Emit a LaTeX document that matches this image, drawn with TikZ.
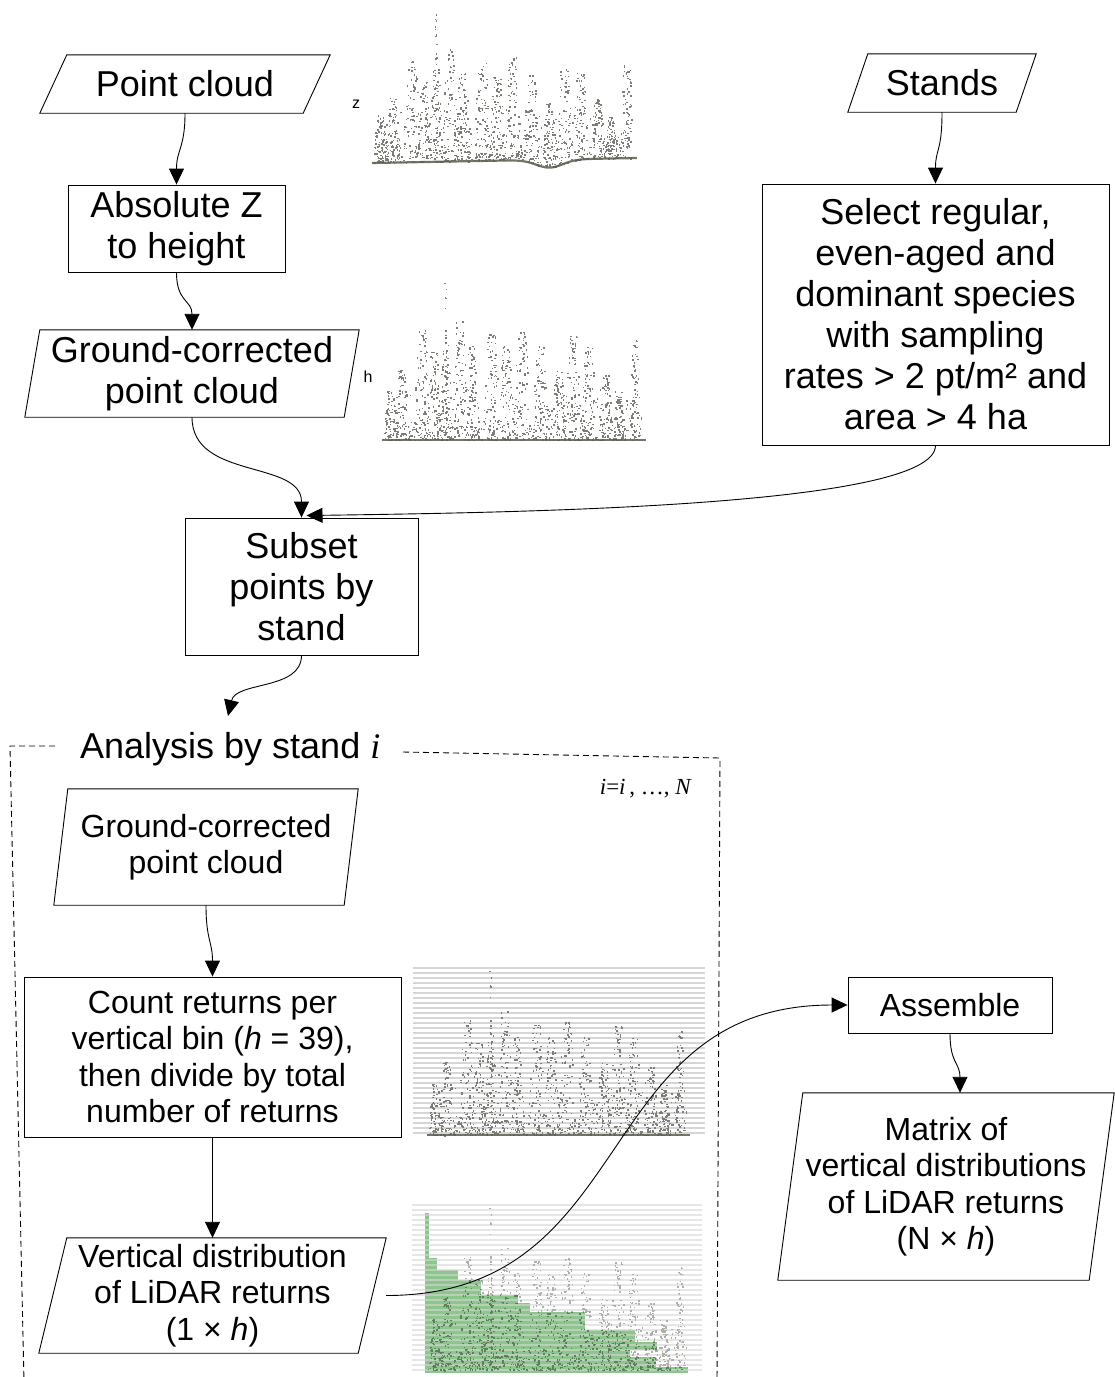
\documentclass[tikz,border=0pt]{standalone}
\usepackage{fontspec}
\setmainfont{Liberation Sans}
\newfontfamily\serifit{Liberation Serif}
\usetikzlibrary{arrows.meta}
\definecolor{dotA}{RGB}{125,125,120}
\definecolor{dotB}{RGB}{175,175,170}
\definecolor{dotG}{RGB}{95,125,95}
\definecolor{groundc}{RGB}{90,94,80}
\definecolor{binc}{RGB}{214,214,214}
\definecolor{barc}{RGB}{140,198,140}

\newcommand\treelist{0.03/0.31/0.03, 0.075/0.44/0.032, 0.15/0.69/0.034, 0.196/0.56/0.03, 0.24/0.62/0.028, 0.294/0.75/0.034, 0.34/0.59/0.032, 0.415/0.66/0.036, 0.47/0.59/0.034, 0.53/0.69/0.036, 0.60/0.59/0.034, 0.67/0.44/0.032, 0.725/0.66/0.034, 0.785/0.59/0.034, 0.85/0.41/0.03, 0.9/0.28/0.026, 0.96/0.63/0.028}

% #1 x0, #2 width, #3 ground y, #4 height, #5 colour, #6 ground offset (in \nx)
\newcommand\drawcloud[6]{%
  \foreach \tx/\th/\tw in \treelist {
    \foreach \k in {1,...,70} {
      \pgfmathsetmacro\ff{rnd}
      \pgfmathsetmacro\nx{\tx+\tw*(1-0.6*\ff)*rand}
      \pgfmathsetmacro\px{#1+#2*\nx}
      \pgfmathsetmacro\py{#3+#6-#4*\th*\ff}
      \fill[#5] (\px,\py) rectangle +(1.5,1.5);
    }
  }
  \foreach \k in {1,...,30} {
    \pgfmathsetmacro\ff{rnd}
    \pgfmathsetmacro\nx{0.24+0.004*rand}
    \pgfmathsetmacro\px{#1+#2*\nx}
    \pgfmathsetmacro\py{#3+#6-#4*\ff}
    \fill[#5] (\px,\py) rectangle +(1.5,1.5);
  }
  \foreach \k in {1,...,460} {
    \pgfmathsetmacro\nx{0.02+0.96*rnd}
    \pgfmathsetmacro\ff{0.38*rnd*rnd}
    \pgfmathsetmacro\px{#1+#2*\nx}
    \pgfmathsetmacro\py{#3+#6-#4*\ff}
    \fill[#5] (\px,\py) rectangle +(1.5,1.5);
  }
}
\newcommand\para[2]{\draw[shapeline] ([xshift=#2]#1.north west) -- (#1.north east) -- ([xshift=-#2]#1.south east) -- (#1.south west) -- cycle;}

\begin{document}
\begin{tikzpicture}[x=1pt,y=-1pt,
  upper/.style={font=\fontsize{36}{41}\selectfont, align=center, inner sep=0pt},
  lower/.style={font=\fontsize{32}{36.5}\selectfont, align=center, inner sep=0pt},
  rbox/.style={draw, line width=0.9pt},
  shapeline/.style={draw, line width=0.9pt},
  conn/.style={line width=0.9pt, -{Triangle[length=16pt,width=15pt]}},
  frame/.style={line width=0.9pt, dash pattern=on 6pt off 4pt},
  binline/.style={binc, line width=1.8pt}
]
\useasboundingbox (0,0) rectangle (1115,1377);
\fill[white] (0,0) rectangle (1115,1377);

% ---------- point cloud images ----------
% image 1 (absolute z)
\pgfmathsetseed{7}
\drawcloud{372}{265}{163}{150}{dotA}{(-5*\nx+8*exp(-((\nx-0.67)/0.07)*((\nx-0.67)/0.07)))}
\draw[groundc, line width=2.2pt, opacity=0.85] plot[smooth, domain=0:1, samples=50] ({372+265*\x},{163-5*\x+8*exp(-((\x-0.67)/0.07)*((\x-0.67)/0.07))});

% image 2 (height)
\pgfmathsetseed{42}
\drawcloud{382}{263}{440}{160}{dotA}{0}
\draw[groundc, line width=2.4pt, opacity=0.85] (382,440) -- (646,440);

% image 3 (bins)
\foreach \i in {0,...,33} \draw[binline] (413,968+5*\i) -- (705,968+5*\i);
\pgfmathsetseed{42}
\drawcloud{427}{263}{1135}{167}{dotA}{0}
\draw[groundc, line width=2.4pt, opacity=0.85] (427,1135) -- (690,1135);

% image 4 (histogram)
\foreach \ya/\yb/\xr in {1213/1258/429, 1258/1270/437, 1270/1280/458, 1280/1295/481, 1295/1303/518, 1303/1312/530, 1312/1330/585, 1330/1342/635, 1342/1350/657, 1350/1357/630, 1357/1367/656, 1367/1373/688}
  \fill[barc] (425,\ya) rectangle (\xr,\yb);
\foreach \i in {0,...,33} \draw[binline, opacity=0.6] (412,1205+5*\i) -- (702,1205+5*\i);
\pgfmathsetseed{42}
\drawcloud{427}{263}{1370}{165}{dotB}{0}
\begin{scope}
\clip \foreach \ya/\yb/\xr in {1213/1258/429, 1258/1270/437, 1270/1280/458, 1280/1295/481, 1295/1303/518, 1303/1312/530, 1312/1330/585, 1330/1342/635, 1342/1350/657, 1350/1357/630, 1357/1367/656, 1367/1373/688} {(425,\ya) rectangle (\xr,\yb)};
\pgfmathsetseed{42}
\drawcloud{427}{263}{1370}{165}{dotG}{0}
\end{scope}

% ---------- nodes ----------
\node[upper, minimum width=290, minimum height=58] (pc) at (185,84) {Point cloud};
\para{pc}{27}
\node[upper, rbox, minimum width=217, minimum height=87] (abs) at (176.5,228.5) {Absolute Z\\to height};
\node[upper, minimum width=334, minimum height=87] (gc1) at (192,373.5) {Ground-corrected\\point cloud};
\para{gc1}{15}
\node[upper, minimum width=188, minimum height=58] (st) at (942,83) {Stands};
\para{st}{20}
\node[upper, rbox, minimum width=347, minimum height=261] (sel) at (935.5,314.5) {Select regular,\\even-aged and\\dominant species\\with sampling\\rates > 2 pt/m² and\\area > 4 ha};
\node[upper, rbox, minimum width=233, minimum height=137] (sub) at (301.5,586.5) {Subset\\points by\\stand};

\node[font=\fontsize{16}{18}\selectfont, inner sep=0pt] (zl) at (356,104) {z};
\node[font=\fontsize{16}{18}\selectfont, inner sep=0pt] (hl) at (368,377) {h};

\node[font=\fontsize{36}{41}\selectfont, anchor=west, inner sep=0pt] (ttl) at (80,749) {Analysis by stand {\serifit\itshape i}};
\node[font=\serifit\fontsize{23}{26}\selectfont, anchor=east, inner sep=0pt] (rng) at (691,789) {\itshape i\upshape=\itshape i\upshape\,, \ldots, \itshape N};

\node[lower, minimum width=304, minimum height=116] (gc2) at (206,847) {Ground-corrected\\point cloud};
\para{gc2}{14}
\node[lower, rbox, minimum width=377, minimum height=160] (cnt) at (212.5,1057) {Count returns per\\vertical bin (\textit{h} = 39),\\then divide by total\\number of returns};
\node[lower, minimum width=347, minimum height=115] (vd) at (212.5,1295.5) {Vertical distribution\\of LiDAR returns\\(1 × \textit{h})};
\para{vd}{28}
\node[lower, rbox, minimum width=204, minimum height=56] (asm) at (950,1005) {Assemble};
\node[lower, minimum width=336, minimum height=187] (mx) at (946,1186.5) {Matrix of\\vertical distributions\\of LiDAR returns\\(N × \textit{h})};
\para{mx}{25}

\coordinate (anaTop) at (228,716);

% ---------- frame ----------
\draw[frame] (55,746) -- (10,746) -- (24,1382);
\draw[frame] (403,752) -- (720,758) -- (717,1382);

% ---------- connectors ----------
\draw[conn] (pc.south) .. controls +(0,35) and +(0,-35) .. (abs.north);
\draw[conn] (abs.south) .. controls +(0,30) and +(0,-30) .. (gc1.north);
\draw[conn] (st.south) .. controls +(0,40) and +(0,-35) .. (sel.north);
\draw[conn] (gc1.south) .. controls +(0,63) and +(0,-58) .. (sub.north);
\draw[conn] (sel.south) .. controls +(0,62) and +(200,-3) .. ([shift={(5,-2)}]sub.north);
\draw[conn] (sub.south) .. controls +(0,35) and +(8,-35) .. (anaTop);
\draw[conn] (gc2.south) .. controls +(0,35) and +(0,-35) .. (cnt.north);
\draw[conn] (cnt.south) -- (vd.north);
\draw[conn] (vd.east) .. controls +(254,0) and +(-258,0) .. (asm.west);
\draw[conn] (asm.south) .. controls +(0,30) and +(0,-30) .. ([xshift=14]mx.north);
\end{tikzpicture}
\end{document}
